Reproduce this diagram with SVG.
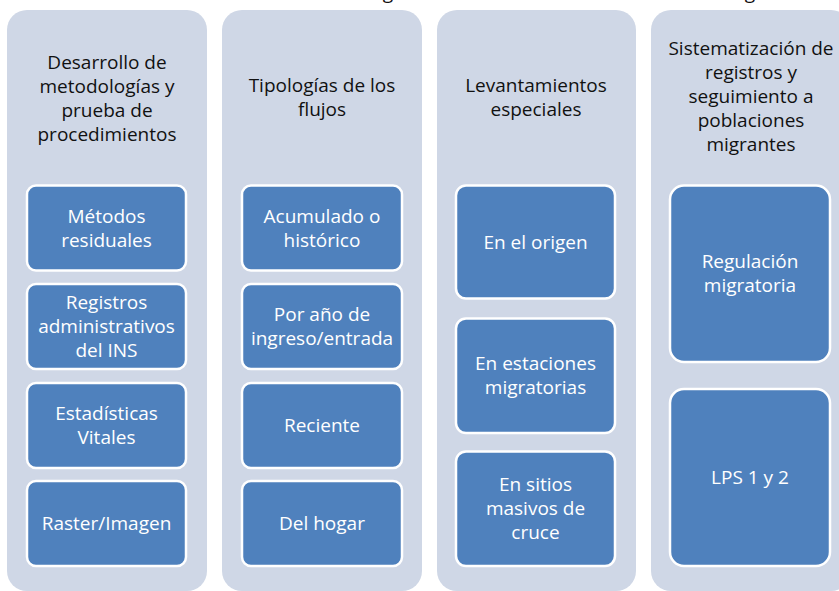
<svg xmlns="http://www.w3.org/2000/svg" width="839" height="591" viewBox="0 0 839 591">
<style>
.col{fill:#CFD7E6;}
.box{fill:#4F81BD;stroke:#FFFFFF;stroke-width:2.5;}
text{font-family:"Open Sans","Liberation Sans",sans-serif;font-size:19px;text-anchor:middle;}
.h{fill:#111111;}
.w{fill:#FFFFFF;}
</style>
<rect width="839" height="591" fill="#FFFFFF"/>
<g id="title-fragments">
<text class="h" x="388" y="-1.5">g</text>
<text class="h" x="750" y="-1.5">g</text>
</g>
<g id="col1">
<rect class="col" x="7" y="10" width="200" height="581" rx="20"/>
<text class="h" x="107" y="69">Desarrollo de</text>
<text class="h" x="107" y="93">metodologías y</text>
<text class="h" x="107" y="117">prueba de</text>
<text class="h" x="107" y="141">procedimientos</text>
</g>
<g id="col1-box1"><rect class="box" x="27" y="185.5" width="159" height="85" rx="9"/>
<text class="w" x="106.5" y="222.5">Métodos</text><text class="w" x="106.5" y="246.5">residuales</text></g>
<g id="col1-box2"><rect class="box" x="27" y="284" width="159" height="85" rx="9"/>
<text class="w" x="106.5" y="309">Registros</text><text class="w" x="106.5" y="333">administrativos</text><text class="w" x="106.5" y="357">del INS</text></g>
<g id="col1-box3"><rect class="box" x="27" y="383" width="159" height="85" rx="9"/>
<text class="w" x="106.5" y="420">Estadísticas</text><text class="w" x="106.5" y="444">Vitales</text></g>
<g id="col1-box4"><rect class="box" x="27" y="481" width="159" height="85" rx="9"/>
<text class="w" x="106.5" y="530">Raster/Imagen</text></g>

<g id="col2">
<rect class="col" x="222" y="10" width="200" height="581" rx="20"/>
<text class="h" x="322" y="92">Tipologías de los</text>
<text class="h" x="322" y="116">flujos</text>
</g>
<g id="col2-box1"><rect class="box" x="242" y="185.5" width="160" height="85" rx="9"/>
<text class="w" x="322" y="222.5">Acumulado o</text><text class="w" x="322" y="246.5">histórico</text></g>
<g id="col2-box2"><rect class="box" x="242" y="284" width="160" height="85" rx="9"/>
<text class="w" x="322" y="320.5">Por año de</text><text class="w" x="322" y="344.5">ingreso/entrada</text></g>
<g id="col2-box3"><rect class="box" x="242" y="383" width="160" height="85" rx="9"/>
<text class="w" x="322" y="432">Reciente</text></g>
<g id="col2-box4"><rect class="box" x="242" y="481" width="160" height="85" rx="9"/>
<text class="w" x="322" y="530">Del hogar</text></g>

<g id="col3">
<rect class="col" x="437" y="10" width="199" height="581" rx="20"/>
<text class="h" x="536" y="92">Levantamientos</text>
<text class="h" x="536" y="116">especiales</text>
</g>
<g id="col3-box1"><rect class="box" x="456" y="185.5" width="159" height="113" rx="10"/>
<text class="w" x="535.5" y="248.5">En el origen</text></g>
<g id="col3-box2"><rect class="box" x="456" y="318.5" width="159" height="114.5" rx="10"/>
<text class="w" x="535.5" y="370">En estaciones</text><text class="w" x="535.5" y="394">migratorias</text></g>
<g id="col3-box3"><rect class="box" x="456" y="451.5" width="159" height="114.5" rx="10"/>
<text class="w" x="535.5" y="491">En sitios</text><text class="w" x="535.5" y="515">masivos de</text><text class="w" x="535.5" y="539">cruce</text></g>

<g id="col4">
<rect class="col" x="651" y="10" width="200" height="581" rx="20"/>
<text class="h" x="751" y="55">Sistematización  de</text>
<text class="h" x="751" y="79">registros y</text>
<text class="h" x="751" y="103">seguimiento a</text>
<text class="h" x="751" y="127">poblaciones</text>
<text class="h" x="751" y="151">migrantes</text>
</g>
<g id="col4-box1"><rect class="box" x="670" y="185.5" width="160" height="176.5" rx="14"/>
<text class="w" x="750" y="268">Regulación</text><text class="w" x="750" y="292">migratoria</text></g>
<g id="col4-box2"><rect class="box" x="670" y="389" width="160" height="177" rx="14"/>
<text class="w" x="750" y="484">LPS 1 y 2</text></g>
<g id="connectors"></g>
</svg>
